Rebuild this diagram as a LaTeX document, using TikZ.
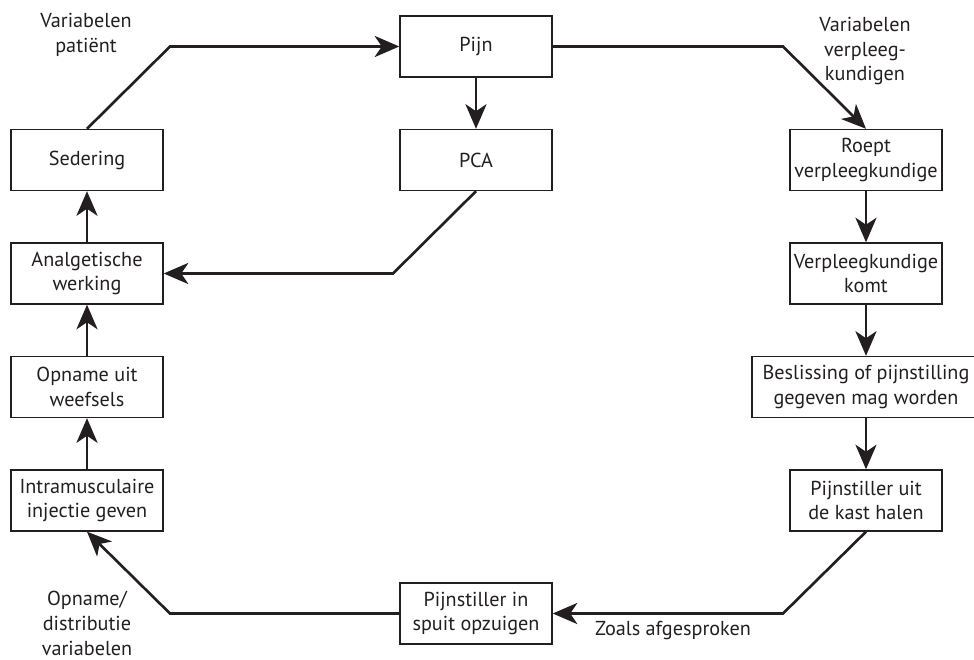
\documentclass[tikz,border=0pt]{standalone}
\usepackage{fontspec}
\setmainfont{PT Sans}
\usepackage{tikz}
\usetikzlibrary{positioning, arrows.meta, calc}

\definecolor{ink}{HTML}{231F20}

\begin{document}
\begin{tikzpicture}
    \tikzset{
        stage box/.style={
                draw=ink, line width=0.8pt, rectangle, align=center, text=ink,
                minimum width=3.04cm, minimum height=1.22cm, inner sep=1pt,
                font=\fontsize{11.5}{14}\selectfont
            },
        side label/.style={
                align=center, text=ink, font=\fontsize{11.5}{14}\selectfont
            },
        flow line/.style={
                draw=ink, line width=1.5pt, line join=miter
            },
        flow arrow/.style={
                flow line, -{Stealth[length=14pt, width=12pt, inset=4pt]}
            }
    }

    \useasboundingbox (0,0) rectangle (19.48,-13.2);

    % middle column
    \node[stage box] (pijn) at (9.52, -0.93) {Pijn};
    \node[stage box] (pca) at (9.52, -3.2) {PCA};
    \node[stage box] (spuit) at (9.52, -12.27) {Pijnstiller in\\spuit opzuigen};

    % left column
    \node[stage box] (sedering) at (1.74, -3.2) {Sedering};
    \node[stage box] (analg) at (1.74, -5.47) {Analgetische\\werking};
    \node[stage box] (opname) at (1.74, -7.74) {Opname uit\\weefsels};
    \node[stage box] (injectie) at (1.74, -10.01) {Intramusculaire\\injectie geven};

    % right column
    \node[stage box] (roept) at (17.32, -3.2) {Roept\\verpleegkundige};
    \node[stage box] (komt) at (17.32, -5.47) {Verpleegkundige\\komt};
    \node[stage box, minimum width=4.56cm] (besl) at (17.32, -7.74) {Beslissing of pijnstilling\\gegeven mag worden};
    \node[stage box] (kast) at (17.32, -10.01) {Pijnstiller uit\\de kast halen};

    % labels
    \node[side label] (varpat) at (1.72, -0.7) {Variabelen\\patiënt};
    \node[side label] (varverpl) at (17.3, -1.02) {Variabelen\\verpleeg-\\kundigen};
    \node[side label] (vardistr) at (1.74, -12.47) {Opname/\\distributie\\variabelen};
    \node[side label] (zoals) at (13.46, -12.62) {Zoals afgesproken};

    % bends
    \coordinate (topleft) at (3.4, -0.93);
    \coordinate (topright) at (15.66, -0.93);
    \coordinate (pcabend) at (7.86, -5.47);
    \coordinate (botright) at (15.66, -12.27);
    \coordinate (botleft) at (3.4, -12.27);

    \draw[flow arrow] (sedering.north) -- (topleft) -- (pijn.west);
    \draw[flow arrow] (pijn.east) -- (topright) -- (roept.north);
    \draw[flow arrow] (pijn) -- (pca);
    \draw[flow arrow] (pca.south) -- (pcabend) -- (analg.east);
    \draw[flow arrow] (roept) -- (komt);
    \draw[flow arrow] (komt) -- (besl);
    \draw[flow arrow] (besl) -- (kast);
    \draw[flow arrow] (kast.south) -- (botright) -- (spuit.east);
    \draw[flow arrow] (spuit.west) -- (botleft) -- (injectie.south);
    \draw[flow arrow] (injectie) -- (opname);
    \draw[flow arrow] (opname) -- (analg);
    \draw[flow arrow] (analg) -- (sedering);
\end{tikzpicture}
\end{document}
